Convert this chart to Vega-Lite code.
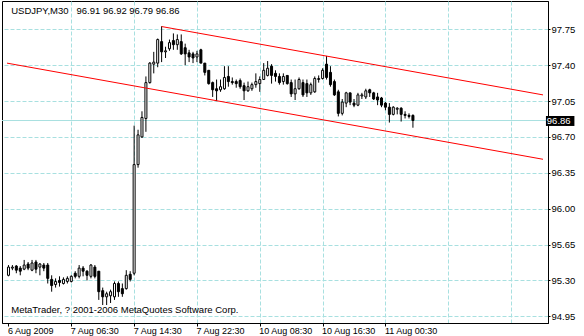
{
  "$schema": "https://vega.github.io/schema/vega-lite/v6.json",
  "width": 546,
  "height": 322,
  "autosize": "none",
  "padding": {"left": 2, "top": 1, "right": 36, "bottom": 13},
  "background": "white",
  "config": {
    "view": {"stroke": "black", "strokeWidth": 1},
    "font": "Liberation Sans"
  },
  "datasets": {
    "bars": [
      {"i":0,"o":95.35,"h":95.45,"l":95.34,"c":95.43},
      {"i":1,"o":95.42,"h":95.45,"l":95.40,"c":95.43},
      {"i":2,"o":95.44,"h":95.45,"l":95.37,"c":95.40},
      {"i":3,"o":95.42,"h":95.44,"l":95.35,"c":95.39},
      {"i":4,"o":95.41,"h":95.50,"l":95.40,"c":95.45},
      {"i":5,"o":95.46,"h":95.48,"l":95.40,"c":95.42},
      {"i":6,"o":95.40,"h":95.50,"l":95.39,"c":95.47},
      {"i":7,"o":95.48,"h":95.50,"l":95.37,"c":95.41},
      {"i":8,"o":95.43,"h":95.47,"l":95.35,"c":95.46},
      {"i":9,"o":95.45,"h":95.47,"l":95.39,"c":95.42},
      {"i":10,"o":95.45,"h":95.47,"l":95.27,"c":95.32},
      {"i":11,"o":95.31,"h":95.35,"l":95.19,"c":95.25},
      {"i":12,"o":95.26,"h":95.32,"l":95.23,"c":95.29},
      {"i":13,"o":95.30,"h":95.34,"l":95.24,"c":95.28},
      {"i":14,"o":95.27,"h":95.33,"l":95.26,"c":95.31},
      {"i":15,"o":95.29,"h":95.34,"l":95.27,"c":95.32},
      {"i":16,"o":95.29,"h":95.35,"l":95.28,"c":95.34},
      {"i":17,"o":95.37,"h":95.39,"l":95.32,"c":95.34},
      {"i":18,"o":95.34,"h":95.45,"l":95.32,"c":95.42},
      {"i":19,"o":95.42,"h":95.44,"l":95.34,"c":95.39},
      {"i":20,"o":95.39,"h":95.40,"l":95.30,"c":95.35},
      {"i":21,"o":95.34,"h":95.46,"l":95.32,"c":95.45},
      {"i":22,"o":95.43,"h":95.45,"l":95.32,"c":95.34},
      {"i":23,"o":95.39,"h":95.39,"l":95.11,"c":95.19},
      {"i":24,"o":95.20,"h":95.23,"l":95.06,"c":95.14},
      {"i":25,"o":95.14,"h":95.19,"l":95.06,"c":95.17},
      {"i":26,"o":95.15,"h":95.21,"l":95.08,"c":95.19},
      {"i":27,"o":95.14,"h":95.29,"l":95.11,"c":95.27},
      {"i":28,"o":95.27,"h":95.29,"l":95.14,"c":95.19},
      {"i":29,"o":95.22,"h":95.27,"l":95.14,"c":95.17},
      {"i":30,"o":95.22,"h":95.40,"l":95.21,"c":95.35},
      {"i":31,"o":95.36,"h":95.39,"l":95.29,"c":95.31},
      {"i":32,"o":95.37,"h":96.81,"l":95.35,"c":96.43},
      {"i":33,"o":96.43,"h":96.77,"l":96.40,"c":96.72},
      {"i":34,"o":96.70,"h":96.95,"l":96.69,"c":96.89},
      {"i":35,"o":96.88,"h":97.29,"l":96.75,"c":97.23},
      {"i":36,"o":97.23,"h":97.43,"l":97.22,"c":97.42},
      {"i":37,"o":97.41,"h":97.53,"l":97.32,"c":97.43},
      {"i":38,"o":97.42,"h":97.66,"l":97.38,"c":97.65},
      {"i":39,"o":97.63,"h":97.78,"l":97.43,"c":97.53},
      {"i":40,"o":97.53,"h":97.58,"l":97.47,"c":97.54},
      {"i":41,"o":97.56,"h":97.65,"l":97.54,"c":97.62},
      {"i":42,"o":97.64,"h":97.71,"l":97.55,"c":97.60},
      {"i":43,"o":97.60,"h":97.70,"l":97.55,"c":97.65},
      {"i":44,"o":97.63,"h":97.70,"l":97.50,"c":97.51},
      {"i":45,"o":97.57,"h":97.61,"l":97.40,"c":97.51},
      {"i":46,"o":97.52,"h":97.55,"l":97.43,"c":97.48},
      {"i":47,"o":97.51,"h":97.53,"l":97.42,"c":97.47},
      {"i":48,"o":97.48,"h":97.54,"l":97.43,"c":97.51},
      {"i":49,"o":97.55,"h":97.56,"l":97.42,"c":97.42},
      {"i":50,"o":97.42,"h":97.42,"l":97.30,"c":97.33},
      {"i":51,"o":97.35,"h":97.35,"l":97.21,"c":97.22},
      {"i":52,"o":97.23,"h":97.24,"l":97.09,"c":97.16},
      {"i":53,"o":97.17,"h":97.26,"l":97.05,"c":97.15},
      {"i":54,"o":97.16,"h":97.26,"l":97.14,"c":97.19},
      {"i":55,"o":97.17,"h":97.39,"l":97.16,"c":97.28},
      {"i":56,"o":97.29,"h":97.39,"l":97.19,"c":97.24},
      {"i":57,"o":97.24,"h":97.28,"l":97.21,"c":97.23},
      {"i":58,"o":97.24,"h":97.26,"l":97.18,"c":97.22},
      {"i":59,"o":97.25,"h":97.27,"l":97.17,"c":97.19},
      {"i":60,"o":97.20,"h":97.23,"l":97.06,"c":97.15},
      {"i":61,"o":97.15,"h":97.24,"l":97.14,"c":97.19},
      {"i":62,"o":97.17,"h":97.23,"l":97.15,"c":97.21},
      {"i":63,"o":97.21,"h":97.32,"l":97.18,"c":97.24},
      {"i":64,"o":97.22,"h":97.29,"l":97.14,"c":97.26},
      {"i":65,"o":97.26,"h":97.42,"l":97.26,"c":97.35},
      {"i":66,"o":97.30,"h":97.44,"l":97.29,"c":97.37},
      {"i":67,"o":97.39,"h":97.41,"l":97.22,"c":97.30},
      {"i":68,"o":97.32,"h":97.35,"l":97.24,"c":97.29},
      {"i":69,"o":97.29,"h":97.32,"l":97.21,"c":97.23},
      {"i":70,"o":97.24,"h":97.32,"l":97.21,"c":97.29},
      {"i":71,"o":97.30,"h":97.30,"l":97.21,"c":97.22},
      {"i":72,"o":97.23,"h":97.26,"l":97.09,"c":97.12},
      {"i":73,"o":97.12,"h":97.26,"l":97.06,"c":97.17},
      {"i":74,"o":97.17,"h":97.28,"l":97.16,"c":97.26},
      {"i":75,"o":97.23,"h":97.26,"l":97.09,"c":97.11},
      {"i":76,"o":97.22,"h":97.26,"l":97.09,"c":97.13},
      {"i":77,"o":97.13,"h":97.23,"l":97.11,"c":97.21},
      {"i":78,"o":97.14,"h":97.29,"l":97.13,"c":97.27},
      {"i":79,"o":97.26,"h":97.30,"l":97.23,"c":97.27},
      {"i":80,"o":97.27,"h":97.37,"l":97.26,"c":97.35},
      {"i":81,"o":97.41,"h":97.49,"l":97.26,"c":97.28},
      {"i":82,"o":97.33,"h":97.39,"l":97.19,"c":97.21},
      {"i":83,"o":97.24,"h":97.26,"l":97.10,"c":97.11},
      {"i":84,"o":97.14,"h":97.16,"l":96.90,"c":96.93},
      {"i":85,"o":96.93,"h":97.07,"l":96.91,"c":97.04},
      {"i":86,"o":97.03,"h":97.14,"l":96.99,"c":97.13},
      {"i":87,"o":97.13,"h":97.13,"l":97.01,"c":97.04},
      {"i":88,"o":97.03,"h":97.07,"l":96.99,"c":97.01},
      {"i":89,"o":97.01,"h":97.13,"l":97.00,"c":97.11},
      {"i":90,"o":97.10,"h":97.13,"l":97.07,"c":97.11},
      {"i":91,"o":97.09,"h":97.17,"l":97.07,"c":97.15},
      {"i":92,"o":97.16,"h":97.17,"l":97.09,"c":97.13},
      {"i":93,"o":97.13,"h":97.14,"l":97.06,"c":97.07},
      {"i":94,"o":97.09,"h":97.13,"l":97.01,"c":97.06},
      {"i":95,"o":97.08,"h":97.09,"l":96.99,"c":97.01},
      {"i":96,"o":97.03,"h":97.04,"l":96.96,"c":96.99},
      {"i":97,"o":96.99,"h":97.03,"l":96.84,"c":96.92},
      {"i":98,"o":96.92,"h":97.00,"l":96.91,"c":96.99},
      {"i":99,"o":96.97,"h":96.99,"l":96.92,"c":96.98},
      {"i":100,"o":96.98,"h":96.99,"l":96.85,"c":96.92},
      {"i":101,"o":96.92,"h":96.95,"l":96.88,"c":96.91},
      {"i":102,"o":96.91,"h":96.93,"l":96.88,"c":96.90},
      {"i":103,"o":96.91,"h":96.92,"l":96.79,"c":96.86}
    ],
    "channel": [
      {"line":"upper","i":39,"p":97.777},
      {"line":"upper","i":136.125,"p":97.110},
      {"line":"lower","i":-0.375,"p":97.420},
      {"line":"lower","i":136.125,"p":96.482}
    ]
  },
  "layer": [
    {
      "data": {"values": [{"bid": 96.86}]},
      "mark": {"type": "rule", "color": "#a8e0e0", "strokeWidth": 1},
      "encoding": {
        "y": {"field": "bid", "type": "quantitative"}
      }
    },
    {
      "data": {"name": "bars"},
      "mark": {"type": "rule", "color": "black", "strokeWidth": 1},
      "encoding": {
        "x": {
          "field": "i", "type": "quantitative",
          "scale": {"domain": [-0.375, 136.125], "nice": false, "zero": false},
          "axis": {
            "orient": "bottom",
            "title": null,
            "values": [0,8,16,24,32,40,48,56,64,72,80,88,96,104,112,120,128,136],
            "labelExpr": "datum.value % 16 === 0 && datum.value <= 96 ? ['6 Aug 2009','7 Aug 06:30','7 Aug 14:30','7 Aug 22:30','10 Aug 08:30','10 Aug 16:30','11 Aug 00:30'][datum.value / 16] : ''",
            "labelAlign": "left",
            "labelBaseline": "top",
            "labelPadding": 0,
            "labelFontSize": 9,
            "labelColor": "black",
            "labelOverlap": false,
            "labelFlush": false,
            "labelBound": false,
            "labelOffset": -1,
            "tickSize": 3,
            "tickColor": "black",
            "tickOpacity": {"condition": {"test": "datum.value % 16 === 0 && datum.value <= 96", "value": 1}, "value": 0},
            "domainColor": "black",
            "grid": true,
            "gridColor": "#a8e0e0",
            "gridDash": [4, 2],
            "gridOpacity": {"condition": {"test": "datum.value > 0", "value": 1}, "value": 0}
          }
        },
        "y": {
          "field": "l", "type": "quantitative",
          "scale": {"domain": [94.8846, 98.0261], "nice": false, "zero": false},
          "axis": {
            "orient": "right",
            "title": null,
            "values": [94.95, 95.3, 95.65, 96.0, 96.35, 96.7, 97.05, 97.4, 97.75],
            "format": ".2f",
            "labelFontSize": 9.5,
            "labelColor": "black",
            "labelPadding": 1,
            "labelBaseline": "middle",
            "labelOverlap": false,
            "labelFlush": false,
            "tickSize": 2,
            "tickColor": "black",
            "domainColor": "black",
            "grid": true,
            "gridColor": "#a8e0e0",
            "gridDash": [4, 2]
          }
        },
        "y2": {"field": "h"}
      }
    },
    {
      "data": {"name": "bars"},
      "mark": {"type": "bar", "size": 2, "stroke": "black", "strokeWidth": 1},
      "encoding": {
        "x": {"field": "i", "type": "quantitative"},
        "y": {"field": "o", "type": "quantitative"},
        "y2": {"field": "c"},
        "fill": {"condition": {"test": "datum.c >= datum.o", "value": "white"}, "value": "black"}
      }
    },
    {
      "data": {"name": "channel"},
      "mark": {"type": "line", "color": "#ff0000", "strokeWidth": 1, "clip": true},
      "encoding": {
        "x": {"field": "i", "type": "quantitative"},
        "y": {"field": "p", "type": "quantitative"},
        "detail": {"field": "line"}
      }
    },
    {
      "data": {"values": [{"t": "USDJPY,M30\u00a0\u00a0 96.91 96.92 96.79 96.86"}]},
      "mark": {"type": "text", "align": "left", "baseline": "alphabetic", "fontSize": 9.5, "color": "black"},
      "encoding": {
        "text": {"field": "t"},
        "x": {"datum": 0.7},
        "y": {"datum": 97.899}
      }
    },
    {
      "data": {"values": [{"t": "MetaTrader, ? 2001-2006 MetaQuotes Software Corp."}]},
      "mark": {"type": "text", "align": "left", "baseline": "alphabetic", "fontSize": 9.5, "color": "black"},
      "encoding": {
        "text": {"field": "t"},
        "x": {"datum": 0.7},
        "y": {"datum": 94.982}
      }
    },
    {
      "data": {"values": [{"bid": 96.86}]},
      "mark": {"type": "rect", "color": "black", "clip": false},
      "encoding": {
        "x": {"datum": 136.875},
        "x2": {"datum": 144.125},
        "y": {"datum": 96.904},
        "y2": {"datum": 96.807}
      }
    },
    {
      "data": {"values": [{"bid": 96.86}]},
      "mark": {"type": "text", "align": "left", "baseline": "middle", "fontSize": 9.5, "color": "white", "clip": false},
      "encoding": {
        "text": {"field": "bid", "type": "quantitative", "format": ".2f"},
        "x": {"datum": 137.1},
        "y": {"field": "bid", "type": "quantitative"}
      }
    }
  ]
}
